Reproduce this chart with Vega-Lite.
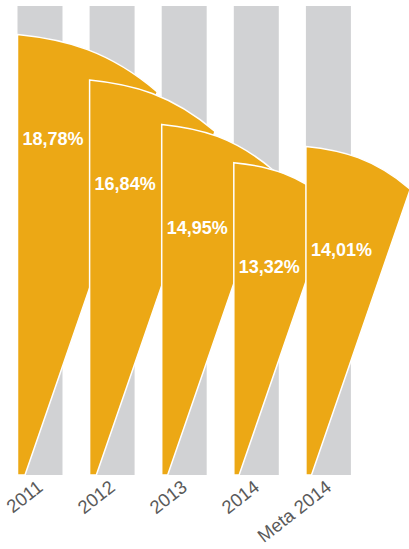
{
  "$schema": "https://vega.github.io/schema/vega-lite/v6.json",
  "width": 409,
  "height": 469,
  "padding": {"left": 0, "right": 0, "top": 6, "bottom": 74},
  "autosize": {"type": "none"},
  "background": "white",
  "config": {"view": {"stroke": null}},
  "data": {
    "values": [
      {"year": "2011", "value": 18.78, "label": "18,78%"},
      {"year": "2012", "value": 16.84, "label": "16,84%"},
      {"year": "2013", "value": 14.95, "label": "14,95%"},
      {"year": "2014", "value": 13.32, "label": "13,32%"},
      {"year": "Meta 2014", "value": 14.01, "label": "14,01%"}
    ]
  },
  "layer": [
    {
      "mark": {"type": "bar", "color": "#D1D2D4"},
      "encoding": {
        "x": {
          "field": "year", "type": "nominal", "sort": null,
          "scale": {"range": [17.5, 350.9], "paddingInner": 0.376, "paddingOuter": 0},
          "axis": {
            "title": null, "domain": false, "ticks": false,
            "labelAngle": -38, "labelFontSize": 18.5, "labelFont": "Liberation Sans",
            "labelColor": "#5a5a5a", "labelPadding": 2, "labelOffset": -5
          }
        },
        "y": {"datum": 20, "type": "quantitative", "scale": {"domain": [0, 20], "nice": false, "zero": true}, "axis": null},
        "y2": {"datum": 0}
      }
    },
    {
      "mark": {
        "type": "point",
        "shape": "M0,0L0,-2C0.22,-1.978,0.415,-1.927,0.635,-1.74L0.034,0Z",
        "filled": true,
        "fill": "#ECA815",
        "stroke": "white",
        "strokeWidth": 1.5,
        "opacity": 1
      },
      "encoding": {
        "x": {"field": "year", "type": "nominal", "sort": null, "bandPosition": 0},
        "y": {"datum": 0, "type": "quantitative"},
        "size": {
          "field": "value", "type": "quantitative",
          "scale": {"type": "pow", "exponent": 2, "domain": [0, 20], "range": [0, 219961]},
          "legend": null
        }
      }
    },
    {
      "mark": {
        "type": "text", "align": "left", "baseline": "middle",
        "dx": 5, "dy": 105, "font": "Liberation Sans", "fontWeight": "bold",
        "fontSize": 18, "color": "white"
      },
      "encoding": {
        "x": {"field": "year", "type": "nominal", "sort": null, "bandPosition": 0},
        "y": {"field": "value", "type": "quantitative"},
        "text": {"field": "label"}
      }
    }
  ]
}
